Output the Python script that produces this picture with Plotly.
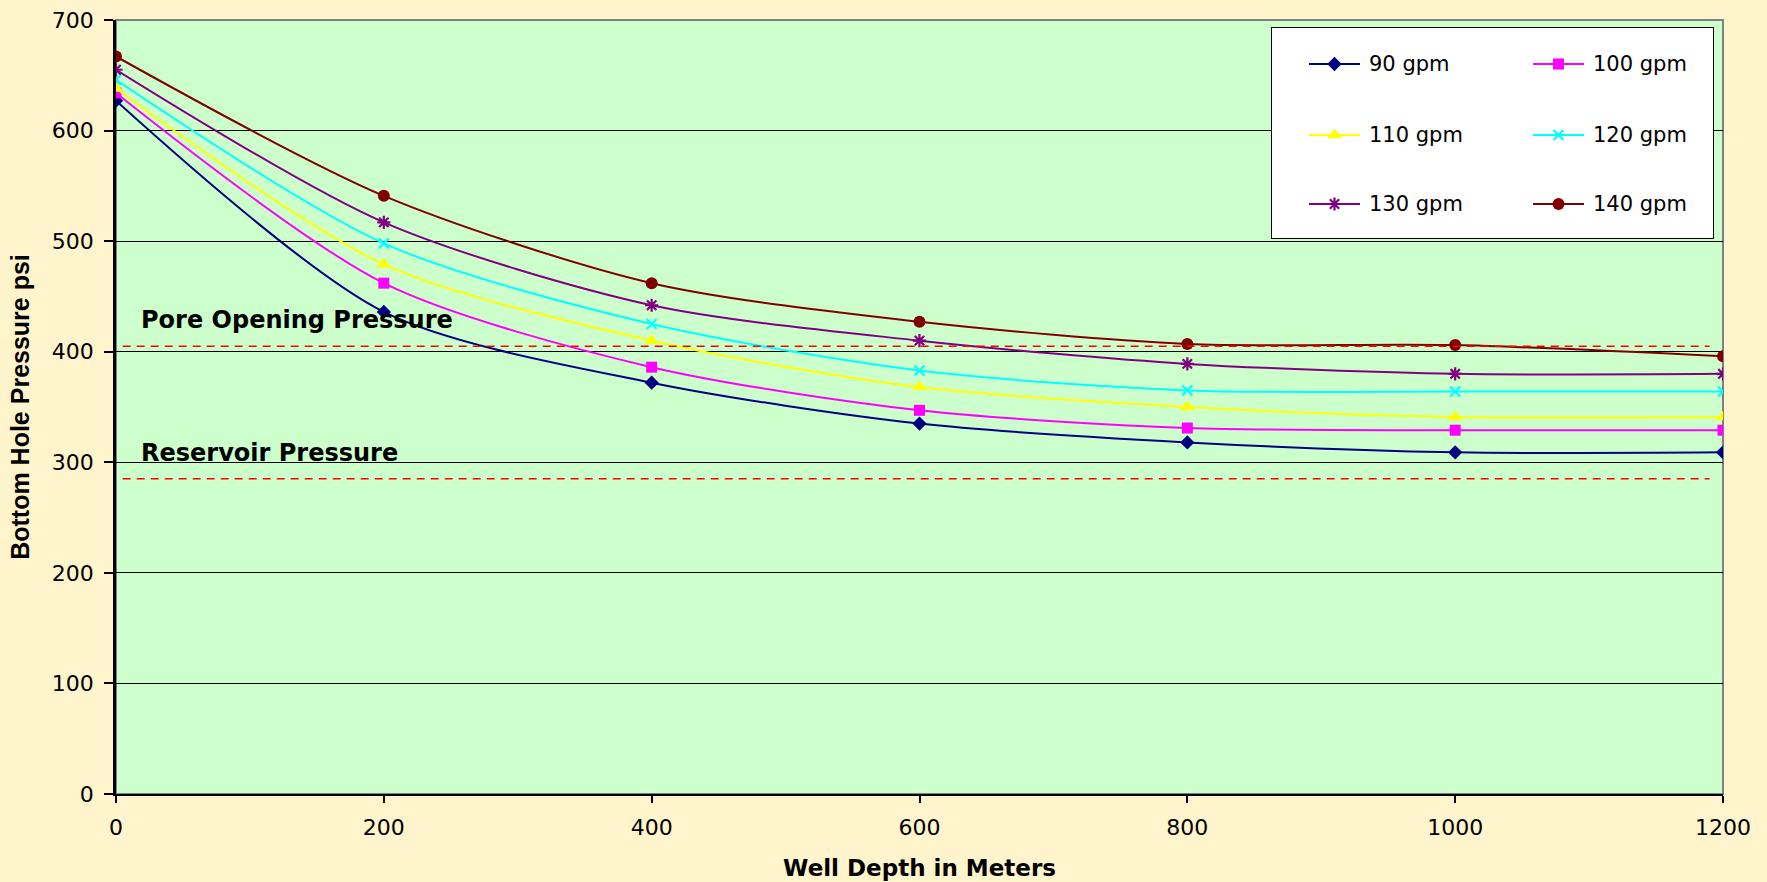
import plotly.graph_objects as go

# ---- data ----
depth = [0, 200, 400, 600, 800, 1000, 1200]
series_names = ["90 gpm", "100 gpm", "110 gpm", "120 gpm", "130 gpm", "140 gpm"]
gpm90 = [627, 436, 372, 335, 318, 309, 309]
gpm100 = [634, 462, 386, 347, 331, 329, 329]
gpm110 = [638, 479, 410, 368, 350, 341, 341]
gpm120 = [646, 498, 425, 383, 365, 364, 364]
gpm130 = [655, 517, 442, 410, 389, 380, 380]
gpm140 = [667, 541, 462, 427, 407, 406, 396]
pore_pressure = 405
reservoir_pressure = 285
ref_line_x = [5, 1190]
x_ticks = [0, 200, 400, 600, 800, 1000, 1200]
y_ticks = [0, 100, 200, 300, 400, 500, 600, 700]

# ---- styles ----
colors = ["#000080", "#FF00FF", "#FFFF00", "#00FFFF", "#800080", "#800000"]
symbols = ["diamond", "square", "triangle-up", "x-thin", "asterisk", "circle"]
msizes = [11, 11, 13, 10, 11, 12]
values = [gpm90, gpm100, gpm110, gpm120, gpm130, gpm140]

W, H = 1767, 882
ML, MR, MT, MB = 116, 44, 20, 88
PW, PH = W - ML - MR, H - MT - MB


def marker_style(s, ms, c):
    thin = s in ("x-thin", "asterisk")
    return dict(symbol=s, size=ms, color=c, line=dict(color=c, width=2.2 if thin else 0))


fig = go.Figure()

for name, vals, c, s, ms in zip(series_names, values, colors, symbols, msizes):
    fig.add_trace(go.Scatter(
        x=depth, y=vals, name=name, mode="lines+markers",
        line=dict(color=c, width=2, shape="spline", smoothing=0.8),
        marker=marker_style(s, ms, c),
        showlegend=False, xaxis="x", yaxis="y",
    ))

for yv in (pore_pressure, reservoir_pressure):
    fig.add_trace(go.Scatter(
        x=ref_line_x, y=[yv, yv], mode="lines",
        line=dict(color="#FF0000", width=1.5, dash="8px,6px"),
        showlegend=False, hoverinfo="skip",
    ))

# ---- custom two-column legend (drawn in its own small subplot) ----
box_l, box_r, box_t, box_b = 1271, 1714, 27, 239
bw, bh = box_r - box_l, box_b - box_t
leg_cols = [38, 262]
leg_rows = [37, 108, 177]
sample_len = 51
text_off = 58
for i, (name, c, s, ms) in enumerate(zip(series_names, colors, symbols, msizes)):
    cx = leg_cols[i % 2]
    ry = leg_rows[i // 2]
    fig.add_trace(go.Scatter(
        x=[cx, cx + sample_len], y=[ry, ry], mode="lines",
        line=dict(color=c, width=2), showlegend=False, hoverinfo="skip",
        xaxis="x2", yaxis="y2",
    ))
    fig.add_trace(go.Scatter(
        x=[cx + sample_len / 2], y=[ry], mode="markers",
        marker=marker_style(s, ms, c),
        showlegend=False, hoverinfo="skip", xaxis="x2", yaxis="y2",
    ))
    fig.add_annotation(
        x=cx + text_off, y=ry, xref="x2", yref="y2", text=name, showarrow=False,
        xanchor="left", yanchor="middle",
        font=dict(family="DejaVu Sans", size=21, color="black"),
    )

fig.add_shape(type="rect", xref="x2", yref="y2", x0=0, x1=bw, y0=0, y1=bh,
              fillcolor="white", line=dict(color="black", width=2), layer="below")

# plot area border (gray top/right)
fig.add_shape(type="rect", xref="paper", yref="paper", x0=0, x1=1, y0=0, y1=1,
              line=dict(color="#808080", width=2), layer="below")

label_font = dict(family="DejaVu Sans", size=24, color="black", weight="bold")
fig.add_annotation(x=17, y=429, xref="x", yref="y", text="Pore Opening Pressure",
                   showarrow=False, xanchor="left", yanchor="middle", font=label_font)
fig.add_annotation(x=17, y=308, xref="x", yref="y", text="Reservoir Pressure",
                   showarrow=False, xanchor="left", yanchor="middle", font=label_font)

fig.update_layout(
    width=W, height=H,
    margin=dict(l=ML, r=MR, t=MT, b=MB, autoexpand=False),
    paper_bgcolor="#FFF4CC",
    plot_bgcolor="#CCFFCC",
    showlegend=False,
    xaxis=dict(
        range=[0, 1200], tickvals=x_ticks, ticktext=[str(v) for v in x_ticks],
        showgrid=False, zeroline=False, showline=True, linecolor="black", linewidth=2,
        ticks="outside", ticklen=7, tickwidth=1.5, tickcolor="black",
        tickfont=dict(family="DejaVu Sans", size=22, color="black"),
        ticklabelstandoff=6,
        title=dict(text="Well Depth in Meters", standoff=20,
                   font=dict(family="DejaVu Sans", size=23, color="black", weight="bold")),
        automargin=False, domain=[0, 1],
    ),
    yaxis=dict(
        range=[0, 700], tickvals=y_ticks, ticktext=[str(v) for v in y_ticks],
        showgrid=True, gridcolor="black", gridwidth=1.3,
        zeroline=False, showline=True, linecolor="black", linewidth=2.5,
        ticks="outside", ticklen=9, tickwidth=1.5, tickcolor="black",
        tickfont=dict(family="DejaVu Sans", size=22, color="black"),
        ticklabelstandoff=6,
        title=dict(text="Bottom Hole Pressure psi", standoff=16,
                   font=dict(family="Liberation Sans", size=25, color="black", weight="bold")),
        automargin=False, domain=[0, 1],
    ),
    xaxis2=dict(
        domain=[(box_l - ML) / PW, (box_r - ML) / PW], range=[0, bw],
        visible=False, anchor="y2", fixedrange=True,
    ),
    yaxis2=dict(
        domain=[(H - MB - box_b) / PH, (H - MB - box_t) / PH], range=[bh, 0],
        visible=False, anchor="x2", fixedrange=True,
    ),
)

fig.write_html("out.html")
